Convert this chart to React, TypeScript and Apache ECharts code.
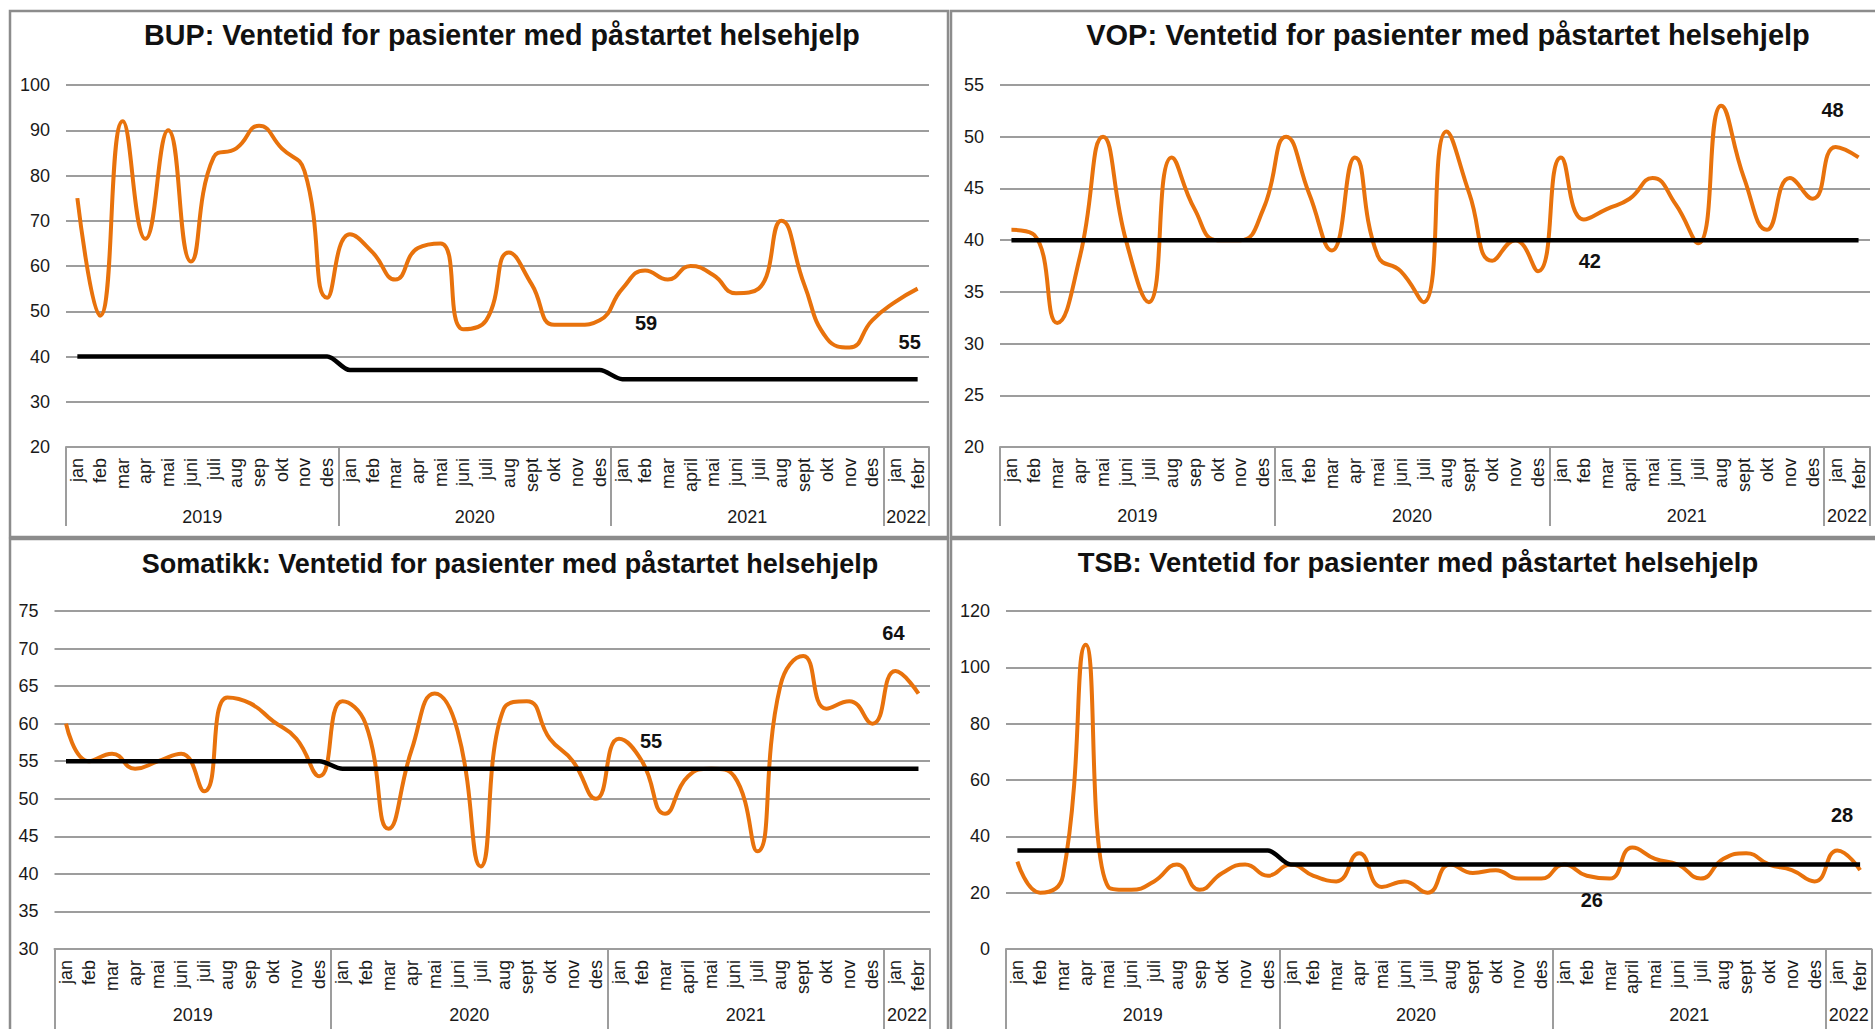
import React, { useEffect, useRef } from "react";
import * as echarts from "echarts";

// ---------- categories ----------
const years = ["2019", "2020", "2021", "2022"];
const months2019 = ["jan", "feb", "mar", "apr", "mai", "juni", "juli", "aug", "sep", "okt", "nov", "des"];
const months2020 = ["jan", "feb", "mar", "apr", "mai", "juni", "juli", "aug", "sept", "okt", "nov", "des"];
const months2021 = ["jan", "feb", "mar", "april", "mai", "juni", "juli", "aug", "sept", "okt", "nov", "des"];
const months2022 = ["jan", "febr"];

// ---------- series values ----------
const bupActual = [75, 49, 92, 66, 90, 61, 84, 86, 91, 86, 81, 53, 67, 63, 57, 64, 65, 46, 48, 63, 56, 47, 47, 48, 55, 59, 57, 60, 58, 54, 55, 70, 56, 44, 42, 48, 52, 55];
const bupTarget = [40, 40, 40, 40, 40, 40, 40, 40, 40, 40, 40, 40, 37, 37, 37, 37, 37, 37, 37, 37, 37, 37, 37, 37, 35, 35, 35, 35, 35, 35, 35, 35, 35, 35, 35, 35, 35, 35];

const vopActual = [41, 40.5, 32, 38.5, 50, 40, 34, 48, 43, 40, 40, 43, 50, 44.5, 39, 48, 38.5, 37, 34, 50.5, 44.5, 38, 40, 37, 48, 42, 43, 44, 46, 43.5, 39.7, 53, 46, 41, 46, 44, 49, 48];
const vopTarget = [40, 40, 40, 40, 40, 40, 40, 40, 40, 40, 40, 40, 40, 40, 40, 40, 40, 40, 40, 40, 40, 40, 40, 40, 40, 40, 40, 40, 40, 40, 40, 40, 40, 40, 40, 40, 40, 40];

const somActual = [60, 55, 56, 54, 55, 56, 51, 63.5, 62.7, 60.3, 58, 53, 63, 60, 46, 56.5, 64, 59, 41, 62, 63, 58, 55, 50, 58, 55, 48, 53, 54, 53, 43, 65, 69, 62, 63, 60, 67, 64];
const somTarget = [55, 55, 55, 55, 55, 55, 55, 55, 55, 55, 55, 55, 54, 54, 54, 54, 54, 54, 54, 54, 54, 54, 54, 54, 54, 54, 54, 54, 54, 54, 54, 54, 54, 54, 54, 54, 54, 54];

const tsbActual = [31, 20, 26, 108, 22, 21, 24, 30, 21, 27, 30, 26, 30, 26, 24, 34, 22, 24, 20, 30, 27, 28, 25, 25, 30, 26, 25, 36, 32, 30, 25, 32, 34, 30, 28, 24, 35, 28];
const tsbTarget = [35, 35, 35, 35, 35, 35, 35, 35, 35, 35, 35, 35, 30, 30, 30, 30, 30, 30, 30, 30, 30, 30, 30, 30, 30, 30, 30, 30, 30, 30, 30, 30, 30, 30, 30, 30, 30, 30];

// ---------- tick labels ----------
const bupTicks = { min: 20, max: 100, step: 10 };
const vopTicks = { min: 20, max: 55, step: 5 };
const somTicks = { min: 30, max: 75, step: 5 };
const tsbTicks = { min: 0, max: 120, step: 20 };

// indices of labelled points (feb 2021, febr 2022)
const labelledIdx = [25, 37];

const titles = [
  "BUP: Ventetid for pasienter med påstartet helsehjelp",
  "VOP: Ventetid for pasienter med påstartet helsehjelp",
  "Somatikk: Ventetid for pasienter med påstartet helsehjelp",
  "TSB: Ventetid for pasienter med påstartet helsehjelp",
];

// ---------- styling / layout ----------
const ORANGE = "#E8720C";
const GRIDC = "#9d9d9d";
const FONT = '"Liberation Sans Narrow", "Arial Narrow", "Liberation Sans", Arial, sans-serif';

const monthGroups = [months2019, months2020, months2021, months2022];
const monthCats = monthGroups.flat();

// year axis: boundaries are positions between bands -> a 39-point axis with boundaryGap false
const yearBoundaries: number[] = [0];
const yearCenters: number[] = [];
{
  let s = 0;
  monthGroups.forEach((g) => {
    yearCenters.push(s + g.length / 2);
    s += g.length;
    yearBoundaries.push(s);
  });
}
const yearCats: string[] = [];
for (let i = 0; i <= monthCats.length; i++) {
  const c = yearCenters.indexOf(i);
  yearCats.push(c >= 0 ? years[c] : "");
}

const panels = [
  {
    actual: bupActual, target: bupTarget, ticks: bupTicks,
    grid: { left: 66, top: 85, width: 863, height: 362 },
    title: [502, 35], titleSize: 28.7,
    offsets: [[1, 52], [-8, 53]], yearMargin: 61, tickLen: 79,
  },
  {
    actual: vopActual, target: vopTarget, ticks: vopTicks,
    grid: { left: 1000, top: 85, width: 870, height: 362 },
    title: [1448, 35], titleSize: 29,
    offsets: [[6, 42], [-26, -47]], yearMargin: 60, tickLen: 79,
  },
  {
    actual: somActual, target: somTarget, ticks: somTicks,
    grid: { left: 54.5, top: 611, width: 875.5, height: 338 },
    title: [510, 564], titleSize: 27,
    offsets: [[9, -20], [-25, -61]], yearMargin: 57, tickLen: 90,
  },
  {
    actual: tsbActual, target: tsbTarget, ticks: tsbTicks,
    grid: { left: 1006, top: 611, width: 865.5, height: 338 },
    title: [1418, 562], titleSize: 27.4,
    offsets: [[5, 24], [-18, -55]], yearMargin: 57, tickLen: 90,
  },
];

const panelRects = [
  { x: 10, y: 11, w: 938, h: 526 },
  { x: 951, y: 11, w: 940, h: 526 },
  { x: 10, y: 539, w: 938, h: 510 },
  { x: 951, y: 539, w: 940, h: 510 },
];

function buildOption() {
  const grid: any[] = [];
  const xAxis: any[] = [];
  const yAxis: any[] = [];
  const series: any[] = [];
  const graphic: any[] = [];

  panelRects.forEach((r) => {
    graphic.push({
      type: "rect",
      shape: { x: r.x, y: r.y, width: r.w, height: r.h },
      style: { fill: "none", stroke: "#8c8c8c", lineWidth: 2.5 },
      z: 0,
    });
  });

  panels.forEach((p, g) => {
    grid.push({ ...p.grid, containLabel: false });
    graphic.push({
      type: "text",
      x: p.title[0],
      y: p.title[1],
      style: {
        text: titles[g],
        fontFamily: FONT,
        fontSize: p.titleSize,
        fontWeight: "bold",
        fill: "#111",
        align: "center",
        verticalAlign: "middle",
      },
    });

    xAxis.push({
      type: "category",
      gridIndex: g,
      data: monthCats,
      boundaryGap: true,
      axisLine: { show: true, lineStyle: { color: GRIDC, width: 2 } },
      axisTick: { show: false },
      axisLabel: {
        interval: 0,
        rotate: 90,
        margin: 11,
        fontFamily: FONT,
        fontSize: 18,
        color: "#1a1a1a",
      },
      splitLine: { show: false },
    });
    xAxis.push({
      type: "category",
      gridIndex: g,
      position: "bottom",
      data: yearCats,
      boundaryGap: false,
      axisLine: { show: false },
      axisTick: {
        show: true,
        length: p.tickLen,
        interval: (i: number) => yearBoundaries.indexOf(i) >= 0,
        lineStyle: { color: GRIDC, width: 2 },
      },
      axisLabel: {
        interval: (i: number) => yearCenters.indexOf(i) >= 0,
        margin: p.yearMargin,
        fontFamily: FONT,
        fontSize: 18,
        color: "#1a1a1a",
      },
      splitLine: { show: false },
    });
    yAxis.push({
      type: "value",
      gridIndex: g,
      min: p.ticks.min,
      max: p.ticks.max,
      interval: p.ticks.step,
      axisLine: { show: false },
      axisTick: { show: false },
      axisLabel: { margin: 16, fontFamily: FONT, fontSize: 18, color: "#1a1a1a" },
      splitLine: { show: true, lineStyle: { color: GRIDC, width: 2 } },
    });

    series.push({
      type: "line",
      xAxisIndex: g * 2,
      yAxisIndex: g,
      data: p.actual,
      smooth: 0.5,
      symbol: "none",
      lineStyle: { color: ORANGE, width: 4 },
      z: 3,
      markPoint: {
        symbol: "circle",
        symbolSize: 1,
        itemStyle: { color: "rgba(0,0,0,0)" },
        data: labelledIdx.map((idx, k) => ({
          coord: [idx, p.actual[idx]],
          value: p.actual[idx],
          label: {
            show: true,
            position: "inside",
            offset: p.offsets[k],
            formatter: "{c}",
            fontFamily: FONT,
            fontSize: 20,
            fontWeight: "bold",
            color: "#111",
          },
        })),
      },
    });
    series.push({
      type: "line",
      xAxisIndex: g * 2,
      yAxisIndex: g,
      data: p.target,
      smooth: 0.3,
      symbol: "none",
      lineStyle: { color: "#000", width: 4.5 },
      z: 4,
    });
  });

  return {
    animation: false,
    backgroundColor: "#fff",
    grid,
    xAxis,
    yAxis,
    series,
    graphic,
  };
}

export default function App() {
  const ref = useRef<HTMLDivElement>(null);
  useEffect(() => {
    if (!ref.current) return;
    const chart = echarts.init(ref.current, undefined, { renderer: "svg" });
    chart.setOption(buildOption() as any);
    return () => chart.dispose();
  }, []);
  return (
    <div
      ref={ref}
      style={{ position: "fixed", left: 0, top: 0, width: 1875, height: 1029, background: "#fff" }}
    />
  );
}
